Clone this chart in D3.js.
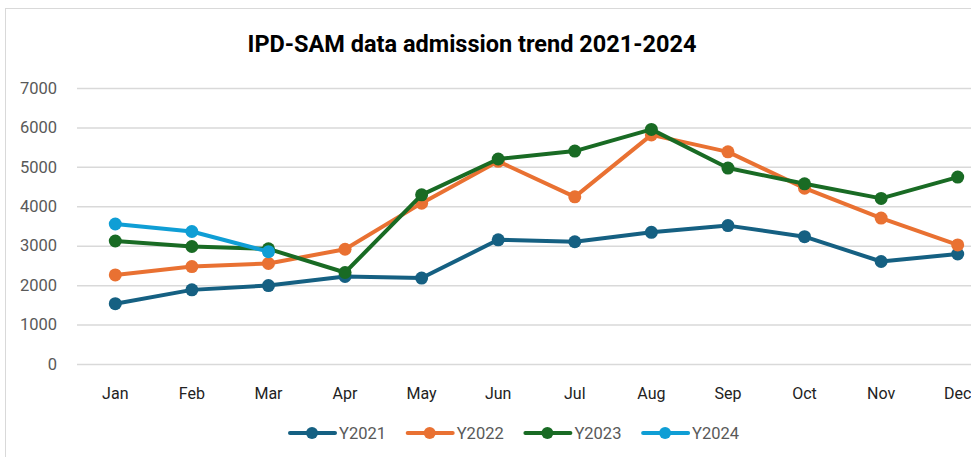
<!DOCTYPE html>
<html lang="en">
<head>
    <meta charset="UTF-8">
    <title>IPD-SAM data admission trend 2021-2024</title>
    <script src="https://d3js.org/d3.v7.min.js"></script>
    <style>
        body { margin: 0; background: #fff; }
        svg text { font-family: Roboto, "Liberation Sans", sans-serif; }
    </style>
</head>
<body>
    <div id="chart"></div>

    <script>
        // data
        const months = ["Jan", "Feb", "Mar", "Apr", "May", "Jun", "Jul", "Aug", "Sep", "Oct", "Nov", "Dec"];
        const y2021 = [1530, 1880, 1990, 2220, 2180, 3150, 3100, 3340, 3510, 3230, 2600, 2790];
        const y2022 = [2260, 2470, 2550, 2910, 4080, 5140, 4240, 5810, 5380, 4460, 3700, 3020];
        const y2023 = [3120, 2980, 2920, 2320, 4290, 5200, 5400, 5950, 4970, 4570, 4200, 4740];
        const y2024 = [3550, 3360, 2850];
        const yTicks = [0, 1000, 2000, 3000, 4000, 5000, 6000, 7000];

        const series = [
            { name: "Y2021", values: y2021, color: "#156082" },
            { name: "Y2022", values: y2022, color: "#E97132" },
            { name: "Y2023", values: y2023, color: "#196B24" },
            { name: "Y2024", values: y2024, color: "#0F9ED5" }
        ];

        const width = 971, height = 457;
        const plotLeft = 77, plotRight = 996, plotTop = 88, plotBottom = 364;

        const svg = d3.select("#chart")
            .append("svg")
            .attr("width", width)
            .attr("height", height);

        // chart area border (runs past the window on right and bottom)
        svg.append("rect")
            .attr("x", 5.5).attr("y", 8.5)
            .attr("width", 1100).attr("height", 600)
            .attr("fill", "#fff")
            .attr("stroke", "#d9d9d9");

        svg.append("text")
            .attr("x", 472).attr("y", 52)
            .attr("text-anchor", "middle")
            .attr("font-size", 24)
            .attr("font-weight", "bold")
            .attr("textLength", 449)
            .attr("lengthAdjust", "spacingAndGlyphs")
            .attr("fill", "#000")
            .text("IPD-SAM data admission trend 2021-2024");

        const x = d3.scaleBand().domain(months).range([plotLeft, plotRight]);
        const y = d3.scaleLinear().domain([0, 7000]).range([plotBottom, plotTop]);

        // gridlines + y labels
        const yAxis = svg.append("g")
            .attr("transform", `translate(${plotLeft},0)`)
            .call(d3.axisLeft(y).tickValues(yTicks).tickSize(-(plotRight - plotLeft)).tickPadding(20).tickFormat(d3.format("d")));
        yAxis.select(".domain").remove();
        yAxis.selectAll(".tick line").attr("stroke", "#d9d9d9").attr("stroke-width", 1.5);
        yAxis.selectAll(".tick text")
            .attr("font-size", 16.5)
            .attr("fill", "#595959")
            .style("font-family", "Roboto, sans-serif");

        // x labels
        const xAxis = svg.append("g")
            .attr("transform", `translate(0,${plotBottom})`)
            .call(d3.axisBottom(x).tickSize(0).tickPadding(24));
        xAxis.select(".domain").remove();
        xAxis.selectAll(".tick text")
            .attr("font-size", 16)
            .attr("fill", "#222")
            .style("font-family", "Roboto, sans-serif");

        const cx = m => x(m) + x.bandwidth() / 2;
        const line = d3.line()
            .x((d, i) => cx(months[i]))
            .y(d => y(d));

        series.forEach(s => {
            svg.append("path")
                .datum(s.values)
                .attr("fill", "none")
                .attr("stroke", s.color)
                .attr("stroke-width", 4)
                .attr("stroke-linejoin", "round")
                .attr("d", line);

            svg.selectAll(null)
                .data(s.values)
                .enter()
                .append("circle")
                .attr("cx", (d, i) => cx(months[i]))
                .attr("cy", d => y(d))
                .attr("r", 6.5)
                .attr("fill", s.color);
        });

        // legend
        const legend = svg.append("g").attr("transform", "translate(290,433)");
        const item = legend.selectAll("g")
            .data(series)
            .enter()
            .append("g")
            .attr("transform", (d, i) => `translate(${i * 117.7},0)`);

        item.append("line")
            .attr("x1", 0).attr("x2", 45)
            .attr("stroke", d => d.color)
            .attr("stroke-width", 4)
            .attr("stroke-linecap", "round");
        item.append("circle")
            .attr("cx", 22).attr("r", 6)
            .attr("fill", d => d.color);
        item.append("text")
            .attr("x", 49).attr("y", 6)
            .attr("font-size", 16.5)
            .attr("fill", "#595959")
            .text(d => d.name);
    </script>
</body>
</html>
